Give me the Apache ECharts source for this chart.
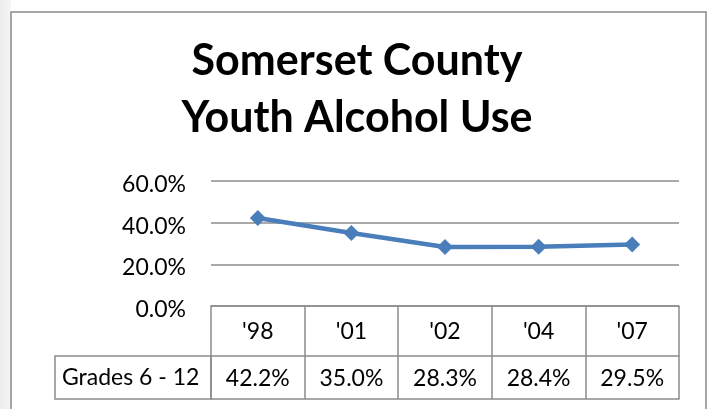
<!DOCTYPE html>
<html>
<head>
<meta charset="utf-8">
<script src="https://cdn.jsdelivr.net/npm/echarts@6/dist/echarts.min.js"></script>
<style>
	html, body { margin: 0; padding: 0; background: #fff; }
	#chart { width: 714px; height: 409px; }
</style>
</head>
<body>
<div id="chart"></div>
<script>
	var years = ["'98", "'01", "'02", "'04", "'07"];
	var grades612 = [0.422, 0.350, 0.283, 0.284, 0.295];
	var rowName = 'Grades 6 - 12';
	var titleText = 'Somerset County\nYouth Alcohol Use';

	function pct(v) {
		return (v * 100).toFixed(1) + '%';
	}

	var lineColor = '#4a7ebb';
	var gridColor = '#8c8c8c';
	var labelFont = 'Lato';

	var chart = echarts.init(document.getElementById('chart'));
	var option = {
		animation: false,
		title: {
			text: titleText,
			left: 'center',
			top: 28,
			textStyle: {
				fontSize: 43,
				fontWeight: 'bold',
				color: '#000',
				fontFamily: 'Lato',
				lineHeight: 57
			}
		},
		grid: {
			left: 211,
			right: 35,
			top: 181,
			bottom: 103
		},
		xAxis: [{
			type: 'category',
			data: years,
			boundaryGap: true,
			axisLine: { lineStyle: { color: gridColor, width: 1.5 } },
			axisTick: { show: true, length: 50, lineStyle: { color: gridColor, width: 1.5 } },
			axisLabel: { margin: 14, fontSize: 23, color: '#000', fontFamily: labelFont }
		}, {
			// 数据表那一行
			type: 'category',
			data: years,
			position: 'bottom',
			offset: 50,
			boundaryGap: true,
			axisLine: { lineStyle: { color: gridColor, width: 1.5 } },
			axisTick: { show: true, length: 43, lineStyle: { color: gridColor, width: 1.5 } },
			axisLabel: {
				margin: 11,
				fontSize: 23,
				color: '#000',
				fontFamily: labelFont,
				formatter: function(v, i) { return pct(grades612[i]); }
			}
		}, {
			type: 'category',
			data: years,
			position: 'bottom',
			offset: 93,
			axisLine: { lineStyle: { color: gridColor, width: 1.5 } },
			axisTick: { show: false },
			axisLabel: { show: false }
		}],
		yAxis: {
			type: 'value',
			min: 0,
			max: 0.6,
			interval: 0.2,
			axisLine: { show: false },
			axisTick: { show: false },
			splitLine: { lineStyle: { color: gridColor, width: 1.5 } },
			axisLabel: {
				margin: 25,
				fontSize: 23,
				color: '#000',
				fontFamily: labelFont,
				verticalAlign: 'top',
				padding: [-8, 0, 0, 0],
				formatter: function(v) { return pct(v); }
			}
		},
		graphic: [{
			type: 'rect',
			shape: { x: 0, y: 0, width: 11, height: 409 },
			style: {
				fill: new echarts.graphic.LinearGradient(0, 0, 1, 0, [
					{ offset: 0, color: '#ececec' },
					{ offset: 1, color: '#f6f6f6' }
				])
			}
		}, {
			type: 'rect',
			shape: { x: 11, y: 12, width: 695, height: 420 },
			style: { fill: 'none', stroke: '#8a8a8a', lineWidth: 1.5 }
		}, {
			type: 'rect',
			shape: { x: 55, y: 356, width: 156, height: 43 },
			style: { fill: 'none', stroke: gridColor, lineWidth: 1.5 }
		}, {
			type: 'text',
			left: 62,
			top: 366,
			style: { text: rowName, fill: '#000', font: '23px Lato' }
		}],
		series: [{
			name: rowName,
			type: 'line',
			data: grades612,
			symbol: 'diamond',
			symbolSize: 16,
			lineStyle: { color: lineColor, width: 4.5 },
			itemStyle: { color: lineColor }
		}]
	};

	chart.setOption(option);
	window.onresize = chart.resize;
</script>
</body>
</html>
